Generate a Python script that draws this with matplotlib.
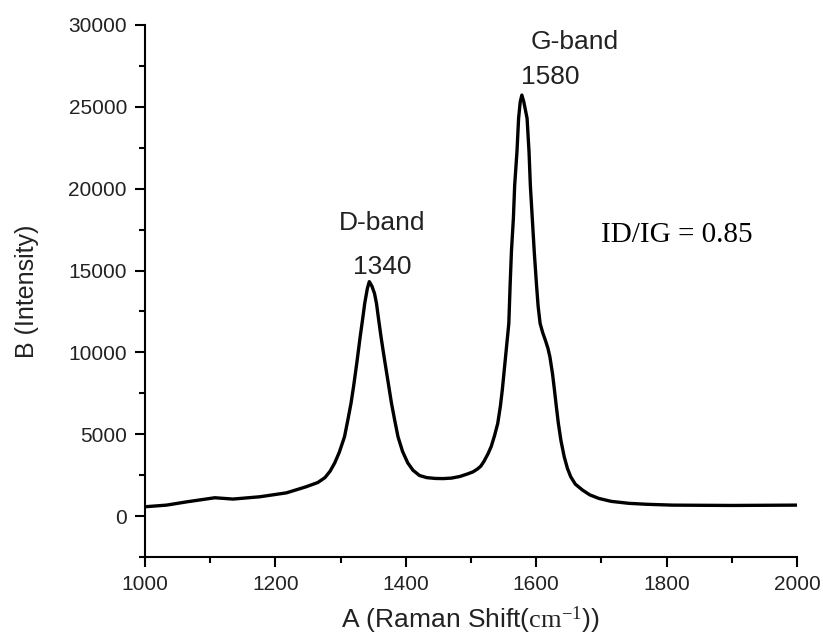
import matplotlib
matplotlib.use("Agg")
import matplotlib.pyplot as plt
from matplotlib.ticker import MultipleLocator

plt.rcParams['font.family'] = ['Liberation Sans', 'DejaVu Sans']
plt.rcParams['mathtext.fontset'] = 'custom'
plt.rcParams['mathtext.rm'] = 'Liberation Serif'
plt.rcParams['mathtext.it'] = 'Liberation Serif:italic'
plt.rcParams['mathtext.bf'] = 'Liberation Serif:bold'

# Raman shift (cm^-1) and intensity
raman_shift = [1000, 1033, 1064, 1107, 1135, 1176, 1217, 1247, 1265, 1276,
               1284, 1291, 1298, 1306, 1311, 1316, 1320, 1325, 1330, 1334,
               1337, 1341, 1344, 1348, 1352, 1355, 1358, 1362, 1366, 1370,
               1374, 1378, 1383, 1388, 1395, 1403, 1411, 1421, 1432, 1445,
               1457, 1470, 1483, 1495, 1503, 1510, 1515, 1520, 1526, 1531,
               1536, 1541, 1545, 1548, 1553, 1558, 1560, 1562, 1565, 1567,
               1570.5, 1573, 1575.5, 1578, 1581, 1584, 1586, 1589, 1591, 1594,
               1597, 1600.5, 1603, 1606, 1610, 1614, 1618, 1621, 1625, 1628,
               1631, 1634, 1638, 1643, 1648, 1653, 1660, 1671, 1682, 1696,
               1715, 1742, 1770, 1809, 1850, 1900, 1950, 2000]
intensity = [570, 670, 870, 1120, 1040, 1180, 1420, 1790, 2050, 2350,
             2750, 3250, 3900, 4850, 5850, 6900, 7950, 9400, 10950, 12100,
             13000, 13900, 14320, 14050, 13600, 13000, 12100, 10950, 9900, 8900,
             7900, 6900, 5850, 4850, 3950, 3250, 2800, 2480, 2350, 2300,
             2290, 2320, 2420, 2580, 2700, 2880, 3050, 3350, 3800, 4250,
             4900, 5660, 6700, 7700, 9730, 11770, 14110, 16150, 18190, 20220,
             22260, 24300, 25300, 25720, 25300, 24700, 24300, 22260, 20220, 18190,
             16150, 14110, 12800, 11770, 11200, 10750, 10250, 9730, 8700, 7700,
             6650, 5660, 4600, 3620, 2900, 2400, 1950, 1590, 1300, 1080,
             900, 780, 720, 670, 660, 650, 660, 670]

x_ticks = [1000, 1200, 1400, 1600, 1800, 2000]
y_ticks = [0, 5000, 10000, 15000, 20000, 25000, 30000]

annotations = [("D-band", 1364, 17900), ("1340", 1364, 15230),
               ("G-band", 1659, 28980), ("1580", 1621, 26840)]
ratio_text = "ID/IG = 0.85"

fig = plt.figure(figsize=(8.23, 6.39), dpi=100)
ax = fig.add_axes([0.1762, 0.1283, 0.7922, 0.8326])

ax.plot(raman_shift, intensity, color='black', lw=2.4, solid_joinstyle='round')

ax.set_xlim(1000, 2000)
ax.set_ylim(-2500, 30000)
ax.set_xticks(x_ticks)
ax.set_yticks(y_ticks)
ax.xaxis.set_minor_locator(MultipleLocator(100))
ax.yaxis.set_minor_locator(MultipleLocator(2500))

for s in ['top', 'right']:
    ax.spines[s].set_visible(False)
for s in ['left', 'bottom']:
    ax.spines[s].set_linewidth(1.5)

ax.tick_params(which='major', direction='out', length=7, width=1.5,
               labelsize=15, pad=6, colors='black', labelcolor='#222222')
ax.tick_params(which='minor', direction='out', length=4, width=1.5)

ax.set_xlabel(r'A (Raman Shift($\mathrm{cm^{-1}}$))', fontsize=19, color='#222222')
ax.set_ylabel('B (Intensity)', fontsize=18, color='#222222')
ax.xaxis.set_label_coords(0.499, -0.09)
ax.yaxis.set_label_coords(-0.163, 0.5)

for txt, xv, yv in annotations:
    ax.text(xv, yv, txt, ha='center', va='center', fontsize=19, color='#222222')

ax.text(1699, 17170, ratio_text, ha='left', va='center', fontsize=21,
        family='Liberation Serif', color='black')

fig.savefig('out.png', dpi=100)
